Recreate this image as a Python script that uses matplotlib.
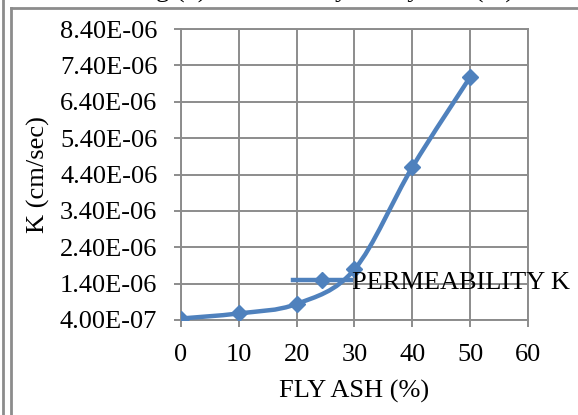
#!/usr/bin/env python3
"""
Permeability K vs fly ash content - Excel style smoothed line chart
"""

import matplotlib
matplotlib.use("Agg")
import matplotlib.pyplot as plt
from matplotlib.path import Path
from matplotlib.patches import PathPatch
from matplotlib.lines import Line2D
from matplotlib.ticker import FuncFormatter, MultipleLocator

# data
fly_ash = [0, 10, 20, 30, 40, 50]
perm_k = [4.4e-7, 5.8e-7, 8.4e-7, 1.79e-6, 4.6e-6, 7.08e-6]
series_name = "PERMEABILITY K"
x_label = "FLY ASH (%)"
y_label = "K (cm/sec)"

BLUE = "#4F81BD"
GRID = "#8C8C8C"
FS = 19

plt.rcParams['font.family'] = ['Liberation Serif', 'DejaVu Serif']

fig = plt.figure(figsize=(5.78, 4.15), dpi=100)
ax = fig.add_axes([0.313, 0.229, 0.6005, 0.701])


def smooth_path(xs, ys):
    """Excel-like smoothed line: cubic bezier through every point"""
    pts = list(zip(xs, ys))
    verts = [pts[0]]
    codes = [Path.MOVETO]
    n = len(pts)
    for i in range(n - 1):
        p0 = pts[i - 1] if i > 0 else pts[i]
        p1 = pts[i]
        p2 = pts[i + 1]
        p3 = pts[i + 2] if i + 2 < n else pts[i + 1]
        c1 = (p1[0] + (p2[0] - p0[0]) / 6, p1[1] + (p2[1] - p0[1]) / 6)
        c2 = (p2[0] - (p3[0] - p1[0]) / 6, p2[1] - (p3[1] - p1[1]) / 6)
        verts += [c1, c2, p2]
        codes += [Path.CURVE4] * 3
    return Path(verts, codes)


ax.add_patch(PathPatch(smooth_path(fly_ash, perm_k), fill=False,
                       edgecolor=BLUE, lw=3.2, capstyle='round',
                       joinstyle='round', zorder=3))
ax.plot(fly_ash, perm_k, linestyle='none', marker='D', ms=8.5,
        color=BLUE, zorder=4)

ax.set_xlim(0, 60)
ax.set_ylim(4.0e-7, 8.4e-6)
ax.xaxis.set_major_locator(MultipleLocator(10))
ax.set_yticks([4.0e-7 + i * 1e-6 for i in range(9)])
ax.yaxis.set_major_formatter(FuncFormatter(lambda v, p: f"{v:.2E}"))

ax.grid(True, color=GRID, lw=1.4)
ax.set_axisbelow(True)
for s in ax.spines.values():
    s.set_color(GRID)
    s.set_linewidth(1.4)
ax.tick_params(direction='out', length=5, width=1.4, color=GRID,
               labelsize=FS)
ax.tick_params(axis='x', pad=12)
ax.tick_params(axis='y', pad=12)

ax.set_xlabel(x_label, fontsize=FS, labelpad=10)
ax.set_ylabel(y_label, fontsize=FS, labelpad=7)

handle = Line2D([], [], color=BLUE, lw=3.2, marker='D', ms=8.5)
ax.legend([handle], [series_name], loc='center left',
          bbox_to_anchor=(0.323, 0.13), frameon=False, fontsize=FS,
          borderpad=0, borderaxespad=0, handlelength=2.2,
          handletextpad=0.05, numpoints=1)

# page frame around the figure (as in the source document)
fig.add_artist(Line2D([3 / 578, 3 / 578], [0, 1], color=GRID, lw=2,
                      transform=fig.transFigure))
fig.add_artist(Line2D([11 / 578, 11 / 578], [0, 1 - 8 / 415], color=GRID,
                      lw=2, transform=fig.transFigure))
fig.add_artist(Line2D([11 / 578, 1], [1 - 8 / 415, 1 - 8 / 415], color=GRID,
                      lw=2, transform=fig.transFigure))
# caption cut off at the top edge
fig.text(0.56, 1 + 2 / 415, "Fig (3) Permeability vs Fly Ash (%)",
         fontsize=FS, ha='center', va='baseline')

fig.savefig('out.png', dpi=100)
